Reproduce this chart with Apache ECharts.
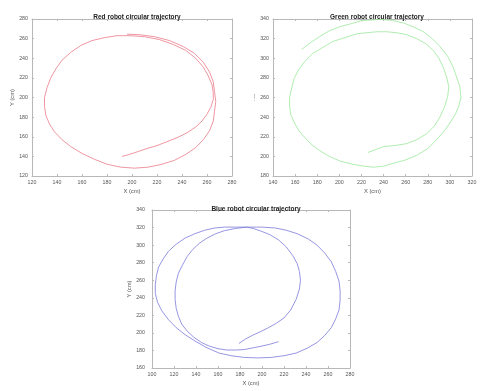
<!DOCTYPE html>
<html>
<head>
<meta charset="utf-8">
<script src="https://cdn.jsdelivr.net/npm/echarts@6/dist/echarts.min.js"></script>
<style>html,body{margin:0;padding:0;background:#fff}#c{width:485px;height:391px}</style>
</head>
<body>
<div id="c"></div>
<script>
// ---- Data (cm) ----
const titles = ['Red robot circular trajectory', 'Green robot circular trajectory', 'Blue robot circular trajectory'];
const xName = 'X (cm)';
const yName = 'Y (cm)';

const redX = [192,198,205,212,220,228,236,244,251,256,260,263,265,
  265,264,261,257,251,243,233,222,210,198,188,
  178,168,159,151,144,139,135,132,130,130,131,134,138,144,151,160,170,180,191,202,213,224,234,243,251,257,262,265,266,267,
  266,265,262,257,250,241,230,218,206,196];
const redY = [140,142,145,148,151,155,159,164,170,176,183,190,198,
  205,213,222,231,240,248,254,259,262,263,263,
  261,258,253,246,238,229,220,210,200,191,182,173,165,157,150,143,137,132,129,128,129,132,136,142,149,157,166,176,186,196,
  206,216,226,236,245,252,258,262,264,264.5];

const greenX = [226,233,240,250,261,270,279,286,291,295,298,299,297,294,290,285,278,270,261,252,243,234,225,216,205,194,185,176,169,163,159,157,155,155,156,159,163,168,174,182,191,201,212,222,231,240,249,259,270,280,288,295,300,305,308,310,309,306,303,298,291,284,276,267,258,248,238,228,219,210,200,191,182,174,166];
const greenY = [204,207,210,211,213,217,223,231,240,250,261,271,281,291,300,308,315,320,324,326,327,327,326,325,321,317,311,305,297,288,279,270,260,251,243,235,227,220,213,206,200,195,192,190,189,190,193,196,201,208,217,226,234,243,251,260,271,281,291,302,312,320,327,332,336,338.5,339.5,339,338,335,332,328,322,316,309];

const blueX = [179,185,191,198,206,213,220,226,231,234,235,234,232,228,222,215,207,199,192,186,
  176,166,157,148,139,130,122,115,110,106,104,103,103,105,109,115,122,130,140,150,161,172,184,196,208,220,231,241,250,257,263,267,270,271,271,270,267,263,257,250,242,232,222,212,200,186,
  176,166,158,150,143,137,132,128,124,122,121,121,122,124,127,132,138,145,152,160,168,176,184,192,200,207,215];
const blueY = [188,193,197,201,206,211,217,226,238,250,260,270,279,288,298,306,312,316,319,320.5,
  320.5,320.5,319.5,317,313,308,301,293,284,275,265,255,245,235,225,215,206,198,190,183,177,174,172,171.5,172,174,177,182.5,189,197,206,216,226,237,248,259,270,281,291,300,307,313,317,319.5,320.5,320.5,
  319,316.5,313,308,302,295,287,278,268,258,248,238,228,219,210,202,195,189,185,182,180.5,180.5,181,183,185,187,190];

const redTicks = {x: [120, 280, 20], y: [120, 280, 20]};
const greenTicks = {x: [140, 320, 20], y: [180, 340, 20]};
const blueTicks = {x: [100, 280, 20], y: [160, 340, 20]};

function pairs(xs, ys) { return xs.map((x, i) => [x, ys[i]]); }

const grids = [
  {left: 32, top: 19, width: 200, height: 157},
  {left: 273, top: 19, width: 199, height: 157},
  {left: 152, top: 210, width: 198, height: 158}
];
const ticks = [redTicks, greenTicks, blueTicks];
const colors = ['#ea7b8a', '#9ae89a', '#7b7bdb'];
const seriesData = [pairs(redX, redY), pairs(greenX, greenY), pairs(blueX, blueY)];

const lineC = '#b8b8b8';
const font = 'Liberation Sans, Arial, sans-serif';
const labelStyle = {fontSize: 5.3, color: '#555', fontFamily: font};
const xAxes = [], yAxes = [], series = [];
grids.forEach((g, i) => {
  const t = ticks[i];
  const common = (mm) => ({
    type: 'value', min: mm[0], max: mm[1], interval: mm[2], gridIndex: i,
    splitLine: {show: false},
    axisLine: {show: true, onZero: false, lineStyle: {color: lineC, width: 1}},
    axisTick: {show: true, inside: true, length: 2, lineStyle: {color: lineC}}
  });
  xAxes.push(Object.assign(common(t.x), {
    position: 'bottom',
    axisLabel: Object.assign({margin: 4}, labelStyle),
    name: xName, nameLocation: 'middle', nameGap: 12,
    nameTextStyle: {fontSize: 5.8, color: '#555', fontFamily: font}
  }));
  xAxes.push(Object.assign(common(t.x), {position: 'top', axisLabel: {show: false}}));
  const yn = {fontSize: i === 1 ? 2.5 : 5.8, color: '#555', fontFamily: font};
  yAxes.push(Object.assign(common(t.y), {
    position: 'left',
    axisLabel: Object.assign({margin: i === 2 ? 7 : 4}, labelStyle),
    name: yName, nameLocation: 'middle', nameGap: i === 1 ? 17 : (i === 2 ? 20 : 17),
    nameTextStyle: yn
  }));
  yAxes.push(Object.assign(common(t.y), {position: 'right', axisLabel: {show: false}}));
  series.push({
    type: 'line', xAxisIndex: i * 2, yAxisIndex: i * 2,
    data: seriesData[i], showSymbol: false, smooth: false, animation: false,
    lineStyle: {color: colors[i], width: 0.8}, z: 3
  });
});

const titleCenters = [[132, 8.5], [372, 8.5], [251, 200.5]];
const title = titles.map((txt, i) => ({
  text: txt, left: titleCenters[i][0], top: titleCenters[i][1], textAlign: 'center',
  textStyle: {fontSize: 6.5, fontWeight: 'bold', color: '#222', fontFamily: font}
}));

const chart = echarts.init(document.getElementById('c'), null, {renderer: 'canvas'});
chart.setOption({
  animation: false,
  backgroundColor: '#fff',
  title: title,
  grid: grids,
  xAxis: xAxes,
  yAxis: yAxes,
  series: series
});
</script>
</body>
</html>
